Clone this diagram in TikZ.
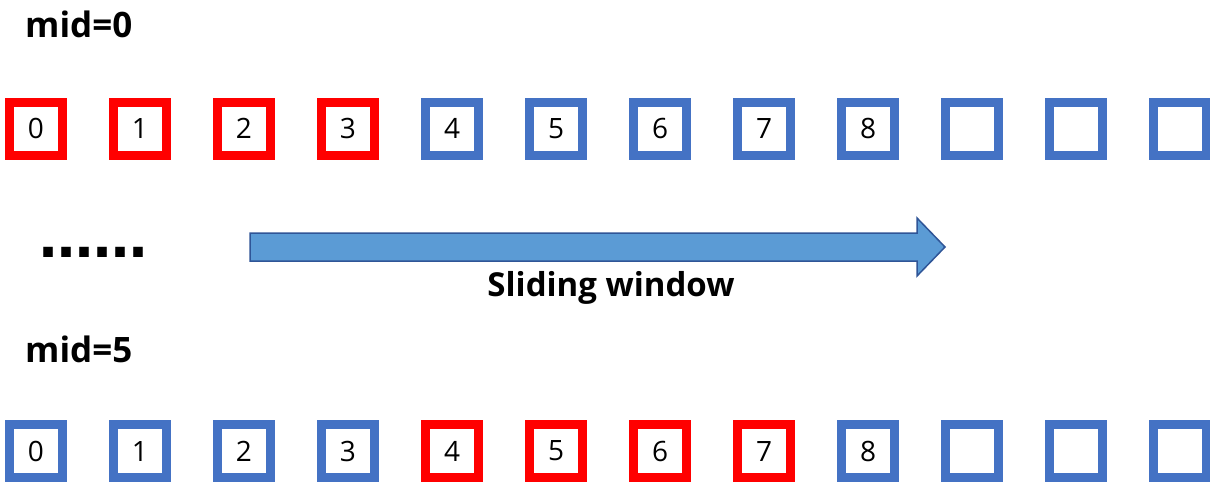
\documentclass[tikz,border=0pt]{standalone}
\usepackage{fontspec}
\setmainfont{Open Sans}
\newfontfamily\dotfont{DejaVu Sans}
\definecolor{cellred}{HTML}{FF0000}
\definecolor{cellblue}{HTML}{4472C4}
\definecolor{arrowfill}{HTML}{5B9BD5}
\definecolor{arrowline}{HTML}{2F5597}
\tikzset{
  cell/.style={draw=cellblue, line width=9pt, minimum size=53pt, inner sep=0pt,
    font=\fontsize{28}{28}\selectfont},
  hot/.style={cell, draw=cellred},
  title/.style={font=\fontsize{35}{35}\selectfont\bfseries, anchor=base west, inner sep=0pt},
}
\begin{document}
\begin{tikzpicture}[x=1pt, y=-1pt]
  \useasboundingbox (0,0) rectangle (1210,482);
  % first window
  \node[title] (midA) at (25,37) {mid=0};
  \foreach \i in {0,...,11} {
    \ifnum\i<4 \def\cellstyle{hot}\else\def\cellstyle{cell}\fi
    \ifnum\i<9 \def\cellnum{\i}\else\def\cellnum{}\fi
    \node[\cellstyle] (t\i) at (36+104*\i,128.5) {\cellnum};
  }
  % ellipsis
  \node[font=\fontsize{54}{54}\selectfont\dotfont\bfseries, anchor=base, inner sep=0pt]
    (dots) at (93,257) {……};
  % sliding arrow
  \draw[fill=arrowfill, draw=arrowline, line width=1.5pt, line join=miter]
    (250,233) -- (917,233) -- (917,218) -- (945,247) -- (917,276) -- (917,261)
    -- (250,261) -- cycle;
  \node[font=\fontsize{33}{33}\selectfont\bfseries, anchor=base, inner sep=0pt]
    (slide) at (611,296) {Sliding window};
  % second window
  \node[title] (midB) at (25,362) {mid=5};
  \foreach \i in {0,...,11} {
    \ifnum\i>3 \ifnum\i<8 \def\cellstyle{hot}\else\def\cellstyle{cell}\fi
    \else\def\cellstyle{cell}\fi
    \ifnum\i<9 \def\cellnum{\i}\else\def\cellnum{}\fi
    \node[\cellstyle] (b\i) at (36+104*\i,451) {\cellnum};
  }
\end{tikzpicture}
\end{document}
